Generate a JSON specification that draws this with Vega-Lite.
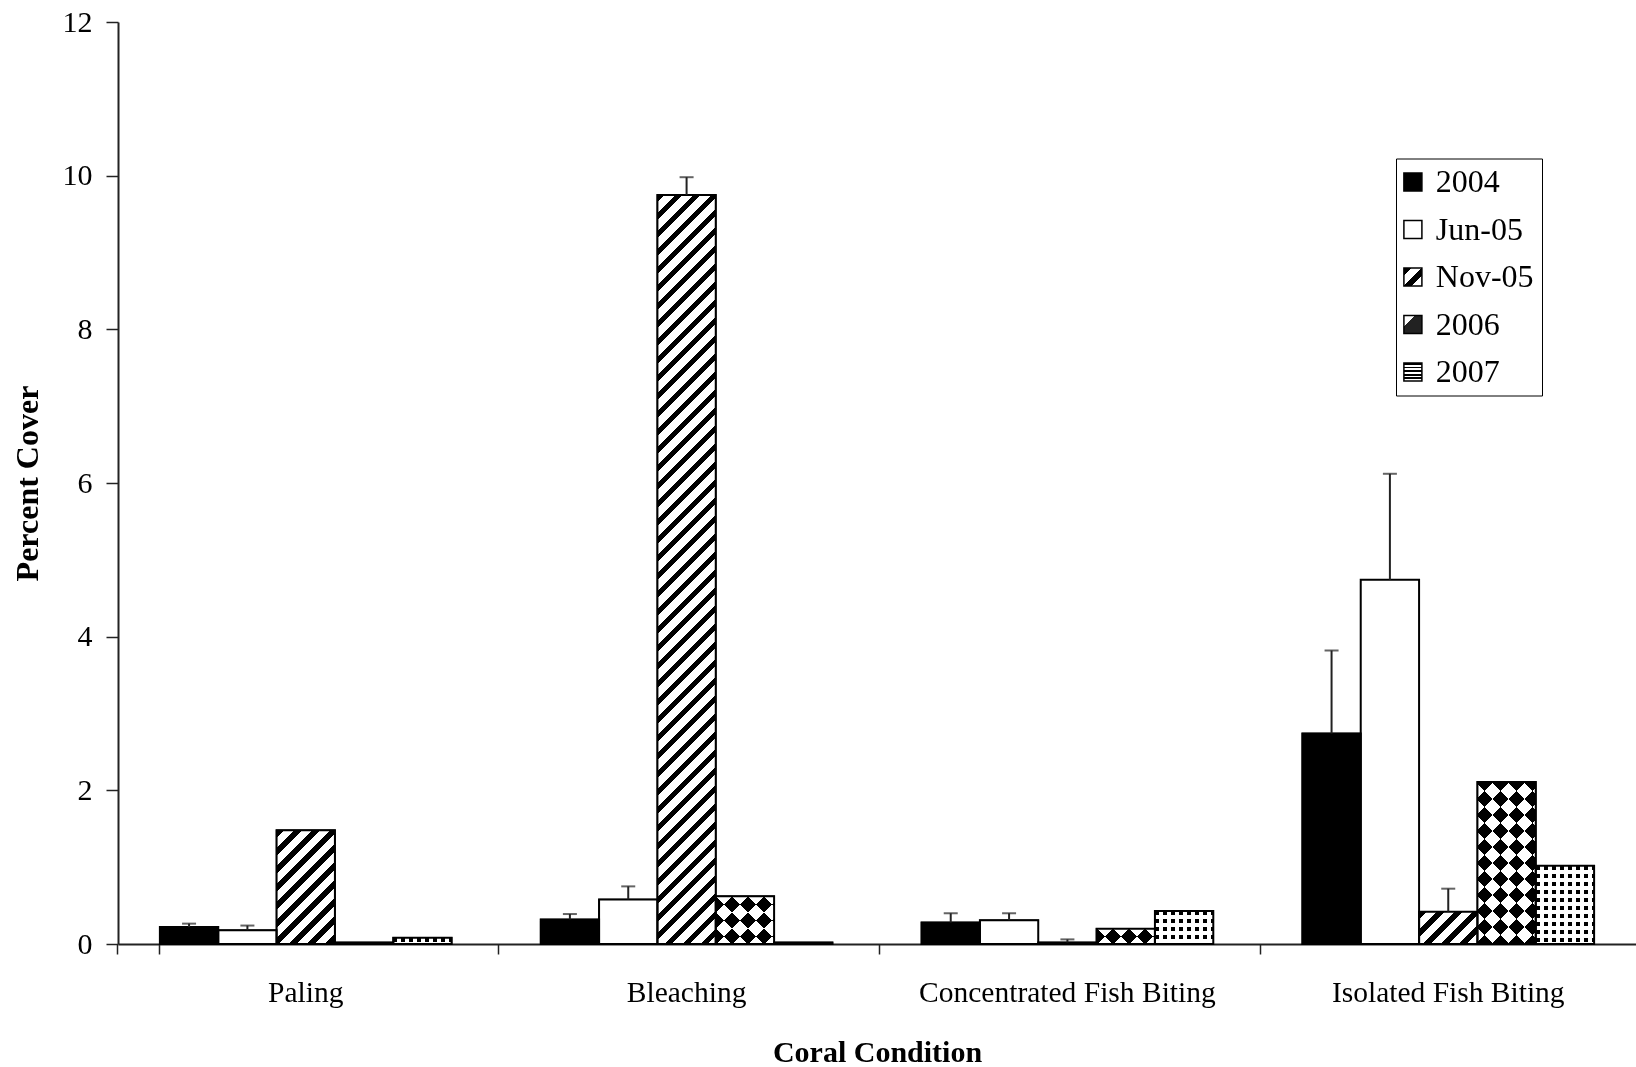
{
  "$schema": "https://vega.github.io/schema/vega-lite/v6.json",
  "width": 1518,
  "height": 922,
  "autosize": {"type": "none"},
  "padding": {"left": 118, "top": 22, "right": 0, "bottom": 123},
  "background": "#ffffff",
  "config": {
    "view": {"stroke": null},
    "font": "Liberation Serif"
  },
  "params": [
    {"name": "bw", "expr": "bandwidth('xOffset')"},
    {"name": "ppu", "expr": "scale('y', 0) - scale('y', 1)"},
    {"name": "legHatch", "value": {"gradient": "linear", "x1": 0, "y1": 0, "x2": 1, "y2": 1, "stops": [
      {"offset": 0, "color": "#000"}, {"offset": 0.2, "color": "#000"}, {"offset": 0.2, "color": "#fff"}, {"offset": 0.5, "color": "#fff"},
      {"offset": 0.5, "color": "#000"}, {"offset": 0.7, "color": "#000"}, {"offset": 0.7, "color": "#fff"}, {"offset": 1, "color": "#fff"}
    ]}},
    {"name": "legChecker", "value": {"gradient": "linear", "x1": 0, "y1": 0, "x2": 1, "y2": 1, "stops": [
      {"offset": 0, "color": "#fff"}, {"offset": 0.3, "color": "#fff"}, {"offset": 0.3, "color": "#222"}, {"offset": 1, "color": "#222"}
    ]}},
    {"name": "legDots", "value": {"gradient": "linear", "x1": 0, "y1": 0, "x2": 0.000001, "y2": 1, "stops": [
      {"offset": 0, "color": "#000"}, {"offset": 0.1, "color": "#000"}, {"offset": 0.1, "color": "#fff"}, {"offset": 0.2, "color": "#fff"},
      {"offset": 0.2, "color": "#000"}, {"offset": 0.3, "color": "#000"}, {"offset": 0.3, "color": "#fff"}, {"offset": 0.4, "color": "#fff"},
      {"offset": 0.4, "color": "#000"}, {"offset": 0.5, "color": "#000"}, {"offset": 0.5, "color": "#fff"}, {"offset": 0.6, "color": "#fff"},
      {"offset": 0.6, "color": "#000"}, {"offset": 0.7, "color": "#000"}, {"offset": 0.7, "color": "#fff"}, {"offset": 0.8, "color": "#fff"},
      {"offset": 0.8, "color": "#000"}, {"offset": 0.9, "color": "#000"}, {"offset": 0.9, "color": "#fff"}, {"offset": 1, "color": "#fff"}
    ]}},
    {"name": "hatch", "value": [
      {"offset":0,"color":"#000"},{"offset":0.008,"color":"#000"},{"offset":0.008,"color":"#fff"},{"offset":0.02,"color":"#fff"},
      {"offset":0.02,"color":"#000"},{"offset":0.028,"color":"#000"},{"offset":0.028,"color":"#fff"},{"offset":0.04,"color":"#fff"},
      {"offset":0.04,"color":"#000"},{"offset":0.048,"color":"#000"},{"offset":0.048,"color":"#fff"},{"offset":0.06,"color":"#fff"},
      {"offset":0.06,"color":"#000"},{"offset":0.068,"color":"#000"},{"offset":0.068,"color":"#fff"},{"offset":0.08,"color":"#fff"},
      {"offset":0.08,"color":"#000"},{"offset":0.088,"color":"#000"},{"offset":0.088,"color":"#fff"},{"offset":0.1,"color":"#fff"},
      {"offset":0.1,"color":"#000"},{"offset":0.108,"color":"#000"},{"offset":0.108,"color":"#fff"},{"offset":0.12,"color":"#fff"},
      {"offset":0.12,"color":"#000"},{"offset":0.128,"color":"#000"},{"offset":0.128,"color":"#fff"},{"offset":0.14,"color":"#fff"},
      {"offset":0.14,"color":"#000"},{"offset":0.148,"color":"#000"},{"offset":0.148,"color":"#fff"},{"offset":0.16,"color":"#fff"},
      {"offset":0.16,"color":"#000"},{"offset":0.168,"color":"#000"},{"offset":0.168,"color":"#fff"},{"offset":0.18,"color":"#fff"},
      {"offset":0.18,"color":"#000"},{"offset":0.188,"color":"#000"},{"offset":0.188,"color":"#fff"},{"offset":0.2,"color":"#fff"},
      {"offset":0.2,"color":"#000"},{"offset":0.208,"color":"#000"},{"offset":0.208,"color":"#fff"},{"offset":0.22,"color":"#fff"},
      {"offset":0.22,"color":"#000"},{"offset":0.228,"color":"#000"},{"offset":0.228,"color":"#fff"},{"offset":0.24,"color":"#fff"},
      {"offset":0.24,"color":"#000"},{"offset":0.248,"color":"#000"},{"offset":0.248,"color":"#fff"},{"offset":0.26,"color":"#fff"},
      {"offset":0.26,"color":"#000"},{"offset":0.268,"color":"#000"},{"offset":0.268,"color":"#fff"},{"offset":0.28,"color":"#fff"},
      {"offset":0.28,"color":"#000"},{"offset":0.288,"color":"#000"},{"offset":0.288,"color":"#fff"},{"offset":0.3,"color":"#fff"},
      {"offset":0.3,"color":"#000"},{"offset":0.308,"color":"#000"},{"offset":0.308,"color":"#fff"},{"offset":0.32,"color":"#fff"},
      {"offset":0.32,"color":"#000"},{"offset":0.328,"color":"#000"},{"offset":0.328,"color":"#fff"},{"offset":0.34,"color":"#fff"},
      {"offset":0.34,"color":"#000"},{"offset":0.348,"color":"#000"},{"offset":0.348,"color":"#fff"},{"offset":0.36,"color":"#fff"},
      {"offset":0.36,"color":"#000"},{"offset":0.368,"color":"#000"},{"offset":0.368,"color":"#fff"},{"offset":0.38,"color":"#fff"},
      {"offset":0.38,"color":"#000"},{"offset":0.388,"color":"#000"},{"offset":0.388,"color":"#fff"},{"offset":0.4,"color":"#fff"},
      {"offset":0.4,"color":"#000"},{"offset":0.408,"color":"#000"},{"offset":0.408,"color":"#fff"},{"offset":0.42,"color":"#fff"},
      {"offset":0.42,"color":"#000"},{"offset":0.428,"color":"#000"},{"offset":0.428,"color":"#fff"},{"offset":0.44,"color":"#fff"},
      {"offset":0.44,"color":"#000"},{"offset":0.448,"color":"#000"},{"offset":0.448,"color":"#fff"},{"offset":0.46,"color":"#fff"},
      {"offset":0.46,"color":"#000"},{"offset":0.468,"color":"#000"},{"offset":0.468,"color":"#fff"},{"offset":0.48,"color":"#fff"},
      {"offset":0.48,"color":"#000"},{"offset":0.488,"color":"#000"},{"offset":0.488,"color":"#fff"},{"offset":0.5,"color":"#fff"},
      {"offset":0.5,"color":"#000"},{"offset":0.508,"color":"#000"},{"offset":0.508,"color":"#fff"},{"offset":0.52,"color":"#fff"},
      {"offset":0.52,"color":"#000"},{"offset":0.528,"color":"#000"},{"offset":0.528,"color":"#fff"},{"offset":0.54,"color":"#fff"},
      {"offset":0.54,"color":"#000"},{"offset":0.548,"color":"#000"},{"offset":0.548,"color":"#fff"},{"offset":0.56,"color":"#fff"},
      {"offset":0.56,"color":"#000"},{"offset":0.568,"color":"#000"},{"offset":0.568,"color":"#fff"},{"offset":0.58,"color":"#fff"},
      {"offset":0.58,"color":"#000"},{"offset":0.588,"color":"#000"},{"offset":0.588,"color":"#fff"},{"offset":0.6,"color":"#fff"},
      {"offset":0.6,"color":"#000"},{"offset":0.608,"color":"#000"},{"offset":0.608,"color":"#fff"},{"offset":0.62,"color":"#fff"},
      {"offset":0.62,"color":"#000"},{"offset":0.628,"color":"#000"},{"offset":0.628,"color":"#fff"},{"offset":0.64,"color":"#fff"},
      {"offset":0.64,"color":"#000"},{"offset":0.648,"color":"#000"},{"offset":0.648,"color":"#fff"},{"offset":0.66,"color":"#fff"},
      {"offset":0.66,"color":"#000"},{"offset":0.668,"color":"#000"},{"offset":0.668,"color":"#fff"},{"offset":0.68,"color":"#fff"},
      {"offset":0.68,"color":"#000"},{"offset":0.688,"color":"#000"},{"offset":0.688,"color":"#fff"},{"offset":0.7,"color":"#fff"},
      {"offset":0.7,"color":"#000"},{"offset":0.708,"color":"#000"},{"offset":0.708,"color":"#fff"},{"offset":0.72,"color":"#fff"},
      {"offset":0.72,"color":"#000"},{"offset":0.728,"color":"#000"},{"offset":0.728,"color":"#fff"},{"offset":0.74,"color":"#fff"},
      {"offset":0.74,"color":"#000"},{"offset":0.748,"color":"#000"},{"offset":0.748,"color":"#fff"},{"offset":0.76,"color":"#fff"},
      {"offset":0.76,"color":"#000"},{"offset":0.768,"color":"#000"},{"offset":0.768,"color":"#fff"},{"offset":0.78,"color":"#fff"},
      {"offset":0.78,"color":"#000"},{"offset":0.788,"color":"#000"},{"offset":0.788,"color":"#fff"},{"offset":0.8,"color":"#fff"},
      {"offset":0.8,"color":"#000"},{"offset":0.808,"color":"#000"},{"offset":0.808,"color":"#fff"},{"offset":0.82,"color":"#fff"},
      {"offset":0.82,"color":"#000"},{"offset":0.828,"color":"#000"},{"offset":0.828,"color":"#fff"},{"offset":0.84,"color":"#fff"},
      {"offset":0.84,"color":"#000"},{"offset":0.848,"color":"#000"},{"offset":0.848,"color":"#fff"},{"offset":0.86,"color":"#fff"},
      {"offset":0.86,"color":"#000"},{"offset":0.868,"color":"#000"},{"offset":0.868,"color":"#fff"},{"offset":0.88,"color":"#fff"},
      {"offset":0.88,"color":"#000"},{"offset":0.888,"color":"#000"},{"offset":0.888,"color":"#fff"},{"offset":0.9,"color":"#fff"},
      {"offset":0.9,"color":"#000"},{"offset":0.908,"color":"#000"},{"offset":0.908,"color":"#fff"},{"offset":0.92,"color":"#fff"},
      {"offset":0.92,"color":"#000"},{"offset":0.928,"color":"#000"},{"offset":0.928,"color":"#fff"},{"offset":0.94,"color":"#fff"},
      {"offset":0.94,"color":"#000"},{"offset":0.948,"color":"#000"},{"offset":0.948,"color":"#fff"},{"offset":0.96,"color":"#fff"},
      {"offset":0.96,"color":"#000"},{"offset":0.968,"color":"#000"},{"offset":0.968,"color":"#fff"},{"offset":0.98,"color":"#fff"},
      {"offset":0.98,"color":"#000"},{"offset":0.988,"color":"#000"},{"offset":0.988,"color":"#fff"},{"offset":1,"color":"#fff"}
    ]},
    {"name": "halfK", "value": [
      {"offset":0,"color":"#000"},{"offset":0.03125,"color":"#000"},{"offset":0.03125,"color":"#fff"},{"offset":0.0625,"color":"#fff"},
      {"offset":0.0625,"color":"#000"},{"offset":0.09375,"color":"#000"},{"offset":0.09375,"color":"#fff"},{"offset":0.125,"color":"#fff"},
      {"offset":0.125,"color":"#000"},{"offset":0.15625,"color":"#000"},{"offset":0.15625,"color":"#fff"},{"offset":0.1875,"color":"#fff"},
      {"offset":0.1875,"color":"#000"},{"offset":0.21875,"color":"#000"},{"offset":0.21875,"color":"#fff"},{"offset":0.25,"color":"#fff"},
      {"offset":0.25,"color":"#000"},{"offset":0.28125,"color":"#000"},{"offset":0.28125,"color":"#fff"},{"offset":0.3125,"color":"#fff"},
      {"offset":0.3125,"color":"#000"},{"offset":0.34375,"color":"#000"},{"offset":0.34375,"color":"#fff"},{"offset":0.375,"color":"#fff"},
      {"offset":0.375,"color":"#000"},{"offset":0.40625,"color":"#000"},{"offset":0.40625,"color":"#fff"},{"offset":0.4375,"color":"#fff"},
      {"offset":0.4375,"color":"#000"},{"offset":0.46875,"color":"#000"},{"offset":0.46875,"color":"#fff"},{"offset":0.5,"color":"#fff"},
      {"offset":0.5,"color":"#000"},{"offset":0.53125,"color":"#000"},{"offset":0.53125,"color":"#fff"},{"offset":0.5625,"color":"#fff"},
      {"offset":0.5625,"color":"#000"},{"offset":0.59375,"color":"#000"},{"offset":0.59375,"color":"#fff"},{"offset":0.625,"color":"#fff"},
      {"offset":0.625,"color":"#000"},{"offset":0.65625,"color":"#000"},{"offset":0.65625,"color":"#fff"},{"offset":0.6875,"color":"#fff"},
      {"offset":0.6875,"color":"#000"},{"offset":0.71875,"color":"#000"},{"offset":0.71875,"color":"#fff"},{"offset":0.75,"color":"#fff"},
      {"offset":0.75,"color":"#000"},{"offset":0.78125,"color":"#000"},{"offset":0.78125,"color":"#fff"},{"offset":0.8125,"color":"#fff"},
      {"offset":0.8125,"color":"#000"},{"offset":0.84375,"color":"#000"},{"offset":0.84375,"color":"#fff"},{"offset":0.875,"color":"#fff"},
      {"offset":0.875,"color":"#000"},{"offset":0.90625,"color":"#000"},{"offset":0.90625,"color":"#fff"},{"offset":0.9375,"color":"#fff"},
      {"offset":0.9375,"color":"#000"},{"offset":0.96875,"color":"#000"},{"offset":0.96875,"color":"#fff"},{"offset":1,"color":"#fff"}
    ]},
    {"name": "halfW", "value": [
      {"offset":0,"color":"rgba(255,255,255,0)"},{"offset":0.03125,"color":"rgba(255,255,255,0)"},{"offset":0.03125,"color":"#fff"},{"offset":0.0625,"color":"#fff"},
      {"offset":0.0625,"color":"rgba(255,255,255,0)"},{"offset":0.09375,"color":"rgba(255,255,255,0)"},{"offset":0.09375,"color":"#fff"},{"offset":0.125,"color":"#fff"},
      {"offset":0.125,"color":"rgba(255,255,255,0)"},{"offset":0.15625,"color":"rgba(255,255,255,0)"},{"offset":0.15625,"color":"#fff"},{"offset":0.1875,"color":"#fff"},
      {"offset":0.1875,"color":"rgba(255,255,255,0)"},{"offset":0.21875,"color":"rgba(255,255,255,0)"},{"offset":0.21875,"color":"#fff"},{"offset":0.25,"color":"#fff"},
      {"offset":0.25,"color":"rgba(255,255,255,0)"},{"offset":0.28125,"color":"rgba(255,255,255,0)"},{"offset":0.28125,"color":"#fff"},{"offset":0.3125,"color":"#fff"},
      {"offset":0.3125,"color":"rgba(255,255,255,0)"},{"offset":0.34375,"color":"rgba(255,255,255,0)"},{"offset":0.34375,"color":"#fff"},{"offset":0.375,"color":"#fff"},
      {"offset":0.375,"color":"rgba(255,255,255,0)"},{"offset":0.40625,"color":"rgba(255,255,255,0)"},{"offset":0.40625,"color":"#fff"},{"offset":0.4375,"color":"#fff"},
      {"offset":0.4375,"color":"rgba(255,255,255,0)"},{"offset":0.46875,"color":"rgba(255,255,255,0)"},{"offset":0.46875,"color":"#fff"},{"offset":0.5,"color":"#fff"},
      {"offset":0.5,"color":"rgba(255,255,255,0)"},{"offset":0.53125,"color":"rgba(255,255,255,0)"},{"offset":0.53125,"color":"#fff"},{"offset":0.5625,"color":"#fff"},
      {"offset":0.5625,"color":"rgba(255,255,255,0)"},{"offset":0.59375,"color":"rgba(255,255,255,0)"},{"offset":0.59375,"color":"#fff"},{"offset":0.625,"color":"#fff"},
      {"offset":0.625,"color":"rgba(255,255,255,0)"},{"offset":0.65625,"color":"rgba(255,255,255,0)"},{"offset":0.65625,"color":"#fff"},{"offset":0.6875,"color":"#fff"},
      {"offset":0.6875,"color":"rgba(255,255,255,0)"},{"offset":0.71875,"color":"rgba(255,255,255,0)"},{"offset":0.71875,"color":"#fff"},{"offset":0.75,"color":"#fff"},
      {"offset":0.75,"color":"rgba(255,255,255,0)"},{"offset":0.78125,"color":"rgba(255,255,255,0)"},{"offset":0.78125,"color":"#fff"},{"offset":0.8125,"color":"#fff"},
      {"offset":0.8125,"color":"rgba(255,255,255,0)"},{"offset":0.84375,"color":"rgba(255,255,255,0)"},{"offset":0.84375,"color":"#fff"},{"offset":0.875,"color":"#fff"},
      {"offset":0.875,"color":"rgba(255,255,255,0)"},{"offset":0.90625,"color":"rgba(255,255,255,0)"},{"offset":0.90625,"color":"#fff"},{"offset":0.9375,"color":"#fff"},
      {"offset":0.9375,"color":"rgba(255,255,255,0)"},{"offset":0.96875,"color":"rgba(255,255,255,0)"},{"offset":0.96875,"color":"#fff"},{"offset":1,"color":"#fff"}
    ]}
  ],
  "data": {
    "values": [
      {"condition": "Paling", "period": "2004", "value": 0.22, "upper": 0.265},
      {"condition": "Paling", "period": "Jun-05", "value": 0.18, "upper": 0.24},
      {"condition": "Paling", "period": "Nov-05", "value": 1.48, "upper": null},
      {"condition": "Paling", "period": "2006", "value": 0.02, "upper": null},
      {"condition": "Paling", "period": "2007", "value": 0.08, "upper": null},
      {"condition": "Bleaching", "period": "2004", "value": 0.32, "upper": 0.39},
      {"condition": "Bleaching", "period": "Jun-05", "value": 0.58, "upper": 0.75},
      {"condition": "Bleaching", "period": "Nov-05", "value": 9.75, "upper": 9.98},
      {"condition": "Bleaching", "period": "2006", "value": 0.62, "upper": null},
      {"condition": "Bleaching", "period": "2007", "value": 0.02, "upper": null},
      {"condition": "Concentrated Fish Biting", "period": "2004", "value": 0.28, "upper": 0.4},
      {"condition": "Concentrated Fish Biting", "period": "Jun-05", "value": 0.31, "upper": 0.4},
      {"condition": "Concentrated Fish Biting", "period": "Nov-05", "value": 0.02, "upper": 0.06},
      {"condition": "Concentrated Fish Biting", "period": "2006", "value": 0.2, "upper": null},
      {"condition": "Concentrated Fish Biting", "period": "2007", "value": 0.43, "upper": null},
      {"condition": "Isolated Fish Biting", "period": "2004", "value": 2.74, "upper": 3.82},
      {"condition": "Isolated Fish Biting", "period": "Jun-05", "value": 4.74, "upper": 6.12},
      {"condition": "Isolated Fish Biting", "period": "Nov-05", "value": 0.42, "upper": 0.72},
      {"condition": "Isolated Fish Biting", "period": "2006", "value": 2.11, "upper": null},
      {"condition": "Isolated Fish Biting", "period": "2007", "value": 1.02, "upper": null}
    ]
  },
  "encoding": {
    "x": {
      "field": "condition",
      "type": "nominal",
      "sort": ["Paling", "Bleaching", "Concentrated Fish Biting", "Isolated Fish Biting"],
      "scale": {"paddingInner": 0.234, "paddingOuter": 0.11},
      "axis": {
        "title": "Coral Condition",
        "labelAngle": 0,
        "labelLimit": 0,
        "bandPosition": -0.145,
        "tickExtra": true,
        "tickSize": 10,
        "tickWidth": 1.5,
        "tickColor": "#222",
        "domainColor": "#222",
        "domainWidth": 2,
        "labelFont": "Liberation Serif",
        "labelFontSize": 29.5,
        "labelColor": "#000",
        "labelBaseline": "alphabetic",
        "labelPadding": 47,
        "titleFont": "Liberation Serif",
        "titleFontSize": 30,
        "titleFontWeight": "bold",
        "titleColor": "#000",
        "titleBaseline": "alphabetic",
        "titleY": 117
      }
    },
    "xOffset": {
      "field": "period",
      "type": "nominal",
      "sort": ["2004", "Jun-05", "Nov-05", "2006", "2007"],
      "scale": {"paddingInner": 0, "paddingOuter": 0}
    },
    "y": {
      "field": "value",
      "type": "quantitative",
      "scale": {"domain": [0, 12], "nice": false},
      "axis": {
        "title": "Percent Cover",
        "values": [0, 2, 4, 6, 8, 10, 12],
        "grid": false,
        "tickSize": 12,
        "tickWidth": 1.5,
        "tickColor": "#222",
        "domainColor": "#222",
        "domainWidth": 2,
        "labelPadding": 14,
        "labelFont": "Liberation Serif",
        "labelFontSize": 30,
        "labelColor": "#000",
        "titleFont": "Liberation Serif",
        "titleFontSize": 32,
        "titleFontWeight": "bold",
        "titleColor": "#000",
        "titleAngle": -90,
        "titleAlign": "center",
        "titleBaseline": "middle",
        "titleX": -91,
        "titleY": 461
      }
    }
  },
  "layer": [
    {
      "mark": {"type": "bar", "stroke": "#000", "strokeWidth": 1.5},
      "encoding": {
        "fill": {
          "field": "period",
          "type": "nominal",
          "scale": {
            "domain": ["2004", "Jun-05", "Nov-05", "2006", "2007"],
            "range": ["#000", "#fff", {"expr": "legHatch"}, {"expr": "legChecker"}, {"expr": "legDots"}]
          },
          "legend": {
            "title": null,
            "orient": "none",
            "legendX": 1278,
            "legendY": 136.5,
            "direction": "vertical",
            "symbolType": "square",
            "symbolSize": 324,
            "symbolStrokeColor": "#000",
            "symbolStrokeWidth": 1.5,
            "symbolOffset": -6.6,
            "labelFont": "Liberation Serif",
            "labelFontSize": 32,
            "labelColor": "#000",
            "labelOffset": 6.9,
            "rowPadding": 15.5,
            "padding": 7.5,
            "strokeColor": "#000",
            "fillColor": "#fff"
          }
        }
      }
    },
    {
      "mark": {"type": "bar", "strokeWidth": 0},
      "encoding": {
        "fill": {"value": {"expr": "datum.period === '2004' ? '#000' : datum.period === 'Jun-05' ? '#fff' : datum.period === 'Nov-05' ? {gradient: 'linear', x1: 0, y1: 0, x2: 900 * bw / (bw * bw + pow(datum.value * ppu, 2)), y2: 900 * datum.value * ppu / (bw * bw + pow(datum.value * ppu, 2)), stops: hatch} : datum.period === '2006' ? {gradient: 'linear', x1: 0, y1: 0, x2: 512 * bw / (bw * bw + pow(datum.value * ppu, 2)), y2: 512 * datum.value * ppu / (bw * bw + pow(datum.value * ppu, 2)), stops: halfK} : {gradient: 'linear', x1: 0, y1: 0, x2: 0.000001, y2: 128 / (datum.value * ppu), stops: halfK}"}}
      }
    },
    {
      "transform": [{"filter": "datum.period === '2006'"}],
      "mark": {"type": "bar", "strokeWidth": 0, "blend": "difference"},
      "encoding": {
        "fill": {"value": {"expr": "{gradient: 'linear', x1: 0, y1: 1, x2: 512 * bw / (bw * bw + pow(datum.value * ppu, 2)), y2: 1 - 512 * datum.value * ppu / (bw * bw + pow(datum.value * ppu, 2)), stops: halfW}"}}
      }
    },
    {
      "transform": [{"filter": "datum.period === '2007'"}],
      "mark": {"type": "bar", "strokeWidth": 0},
      "encoding": {
        "fill": {"value": {"expr": "{gradient: 'linear', x1: 0, y1: 0, x2: 128 / bw, y2: 0, stops: halfW}"}}
      }
    },
    {
      "mark": {"type": "bar", "fill": null, "fillOpacity": 0, "stroke": "#000", "strokeWidth": 2},
      "encoding": {}
    },
    {
      "transform": [{"filter": "isValid(datum.upper)"}],
      "mark": {"type": "rule", "color": "#222", "strokeWidth": 2},
      "encoding": {
        "y": {"field": "value", "type": "quantitative"},
        "y2": {"field": "upper"}
      }
    },
    {
      "transform": [{"filter": "isValid(datum.upper)"}],
      "mark": {"type": "tick", "color": "#222", "size": 14, "thickness": 2, "orient": "horizontal"},
      "encoding": {
        "y": {"field": "upper", "type": "quantitative"}
      }
    }
  ]
}
